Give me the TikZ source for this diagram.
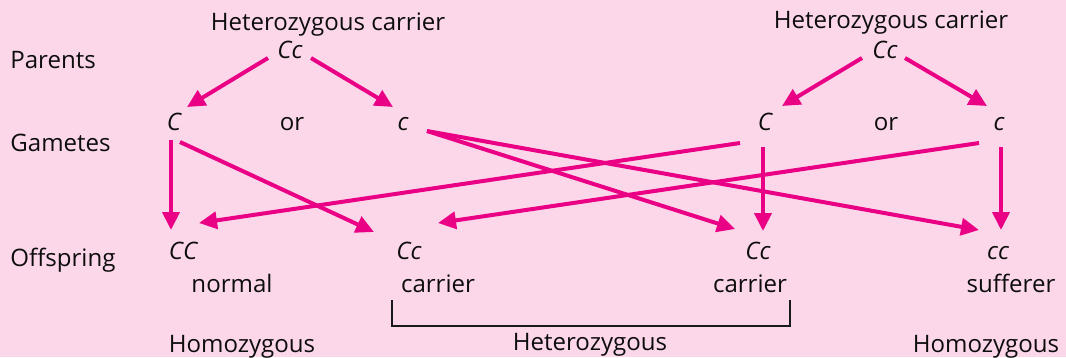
\documentclass[tikz,border=0pt]{standalone}
\usepackage{fontspec}
\setmainfont{Open Sans}
\usepackage{xcolor}
\usepackage{tikz}
\usetikzlibrary{arrows.meta}
\definecolor{bgpink}{RGB}{252,215,234}
\definecolor{genemag}{RGB}{233,0,132}
\tikzset{
    txt/.style={
        anchor=base, inner sep=0pt,
        font=\fontsize{13.7}{16}\selectfont, text=black!95
    },
    gene/.style={txt, font=\fontsize{13.7}{16}\selectfont\itshape},
    arr/.style={
        genemag, line width=0.08cm,
        -{Triangle[length=0.36cm,width=0.34cm]}
    }
}

\begin{document}
\begin{tikzpicture}[x=0.02cm, y=-0.02cm]

% Sfondo
\fill[bgpink] (0,0) rectangle (1066,357);

% Righe a sinistra
\node[txt, anchor=base west] (lpar) at (10,68) {Parents};
\node[txt, anchor=base west] (lgam) at (10,151) {Gametes};
\node[txt, anchor=base west] (loff) at (10,266) {Offspring};

% Genitori
\node[txt] (hL) at (328,30) {Heterozygous carrier};
\node[txt] (hR) at (891,28) {Heterozygous carrier};
\node[gene] (pL) at (290,58) {Cc};
\node[gene] (pR) at (885,58) {Cc};

% Gameti
\node[gene] (gLC) at (174,130) {C};
\node[txt]  (gLor) at (292,130) {or};
\node[gene] (gLc) at (403,130) {c};
\node[gene] (gRC) at (765,130) {C};
\node[txt]  (gRor) at (886,130) {or};
\node[gene] (gRc) at (999,130) {c};

% Figli
\node[gene] (oCC) at (183,259) {CC};
\node[gene] (oCc1) at (409,259) {Cc};
\node[gene] (oCc2) at (758,259) {Cc};
\node[gene] (occ) at (998,259) {cc};
\node[txt] (tnorm) at (232,292) {normal};
\node[txt] (tcar1) at (438,292) {carrier};
\node[txt] (tcar2) at (750,292) {carrier};
\node[txt] (tsuff) at (1011,292) {sufferer};

% Genitori -> gameti
\draw[arr] ([shift={(-22,0)}]pL.base) -- ([shift={(13,-23)}]gLC.base);
\draw[arr] ([shift={(21,0)}]pL.base) -- ([shift={(-10,-23)}]gLc.base);
\draw[arr] ([shift={(-23,0)}]pR.base) -- ([shift={(17,-24)}]gRC.base);
\draw[arr] ([shift={(20,0)}]pR.base) -- ([shift={(-12,-24)}]gRc.base);

% Gameti -> figli
\draw[arr] ([shift={(-3,10)}]gLC.base) -- ([shift={(-12,-29)}]oCC.base);
\draw[arr] ([shift={(6,12)}]gLC.base) -- ([shift={(-35,-27)}]oCc1.base);
\draw[arr] ([shift={(24,1)}]gLc.base) -- ([shift={(-23,-30)}]oCc2.base);
\draw[arr] ([shift={(24,1)}]gLc.base) -- ([shift={(-19,-29)}]occ.base);
\draw[arr] ([shift={(-25,13)}]gRC.base) -- ([shift={(16,-36)}]oCC.base);
\draw[arr] ([shift={(-2,17)}]gRC.base) -- ([shift={(5,-28)}]oCc2.base);
\draw[arr] ([shift={(-20,13)}]gRc.base) -- ([shift={(29,-36)}]oCc1.base);
\draw[arr] ([shift={(2,17)}]gRc.base) -- ([shift={(3,-29)}]occ.base);

% Parentesi eterozigoti
\draw[black!90, line width=0.8pt] (392,300) -- (392,326) -- (790,326) -- (790,300);

% Etichette in basso
\node[txt] (homL) at (242,352) {Homozygous};
\node[txt] (het) at (590,350) {Heterozygous};
\node[txt] (homR) at (986,352) {Homozygous};

\end{tikzpicture}
\end{document}
